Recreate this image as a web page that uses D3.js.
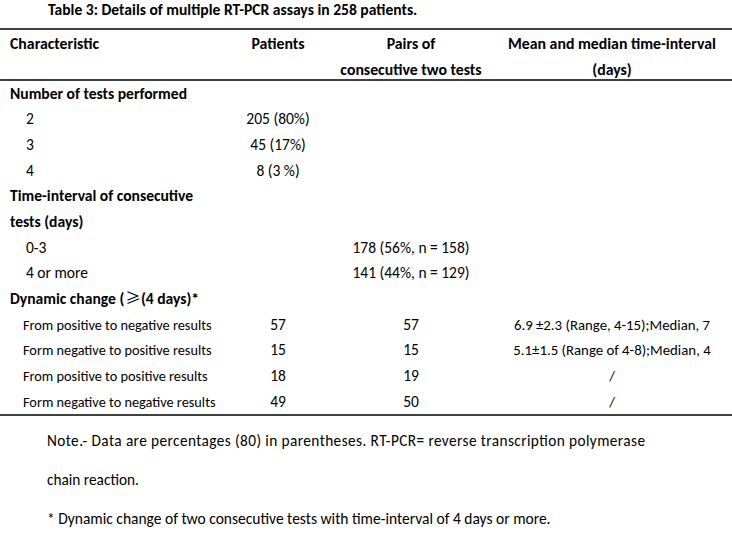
<!DOCTYPE html>
<html>
<head>
<meta charset="utf-8">
<script src="https://cdn.jsdelivr.net/npm/d3@7"></script>
<style>
  html, body { margin: 0; padding: 0; background: #fff; }
  svg { display: block; }
  text { font-family: Carlito, Lato, "Liberation Sans", sans-serif; fill: #000; }
  .cjk { font-family: "Noto Sans CJK SC", "DejaVu Sans", sans-serif; font-weight: normal; }
</style>
</head>
<body>
<svg id="chart" width="732" height="534"></svg>
<script>
// ---------- data ----------
const title = "Table 3: Details of multiple RT-PCR assays in 258 patients.";
const columnHeaders = [
  ["Characteristic"],
  ["Patients"],
  ["Pairs of", "consecutive two tests"],
  ["Mean and median time-interval", "(days)"]
];
const rowLabels = [
  "Number of tests performed", "2", "3", "4",
  "Time-interval of consecutive", "tests (days)", "0-3", "4 or more",
  "Dynamic change (\u2265(4 days)*",
  "From positive to negative results", "Form negative to positive results",
  "From positive to positive results", "Form negative to negative results"
];
const rowKinds = ["group", "item", "item", "item", "group", "group", "item", "item",
  "group", "sub", "sub", "sub", "sub"];
const patientsCol = ["", "205 (80%)", "45 (17%)", "8 (3 %)", "", "", "", "", "", "57", "15", "18", "49"];
const pairsCol = ["", "", "", "", "", "", "178 (56%, n = 158)", "141 (44%, n = 129)", "", "57", "15", "19", "50"];
const meanCol = ["", "", "", "", "", "", "", "", "",
  "6.9 \u00b12.3 (Range, 4-15);Median, 7", "5.1\u00b11.5 (Range of 4-8);Median, 4", "/", "/"];
const notes = [
  "Note.- Data are percentages (80) in parentheses. RT-PCR= reverse transcription polymerase",
  "chain reaction.",
  "* Dynamic change of two consecutive tests with time-interval of 4 days or more."
];

// ---------- layout ----------
const svg = d3.select("#chart");
const W = 732;

const y = d3.scaleLinear().domain([0, rowLabels.length - 1]).range([93, 401]);
const colX = d3.scaleOrdinal().domain([1, 2, 3]).range([278, 411, 612]);
const labelX = { group: 10, item: 26, sub: 23 };
const labelSize = { group: 15.6, item: 15.5, sub: 14.3 };

// title
svg.append("text")
  .attr("x", 48).attr("y", 15)
  .attr("font-weight", "bold").attr("font-size", 15.6)
  .text(title);

// rules
[[29, 1.6], [80, 1.6], [415, 1.6]].forEach(([yy, w]) => {
  svg.append("line").attr("x1", 0).attr("x2", W).attr("y1", yy).attr("y2", yy)
    .attr("stroke", "#000").attr("stroke-width", w);
});

// header
const headerY = [48.5, 74.5];
columnHeaders.forEach((lines, i) => {
  lines.forEach((t, j) => {
    svg.append("text")
      .attr("x", i === 0 ? 10 : colX(i))
      .attr("y", headerY[j])
      .attr("text-anchor", i === 0 ? "start" : "middle")
      .attr("font-weight", "bold").attr("font-size", 15.8)
      .text(t);
  });
});

// rows
const rows = svg.append("g");
rowLabels.forEach((lab, i) => {
  const kind = rowKinds[i];
  const base = y(i) + 5.5;
  const t = rows.append("text")
    .attr("x", labelX[kind]).attr("y", base)
    .attr("font-weight", kind === "group" ? "bold" : "normal")
    .attr("font-size", labelSize[kind]);
  // render the CJK-style "≥" sign with a CJK font, as in the source document
  lab.split(/(\u2265)/).forEach(part => {
    if (!part) return;
    const ts = t.append("tspan").text(part);
    if (part === "\u2265") ts.attr("class", "cjk").attr("dx", 1);
  });
  [patientsCol, pairsCol, meanCol].forEach((col, c) => {
    if (col[i]) {
      rows.append("text")
        .attr("x", colX(c + 1)).attr("y", base)
        .attr("text-anchor", "middle")
        .attr("font-size", c === 2 ? 14.8 : 15.5)
        .text(col[i]);
    }
  });
});

// notes
const note0 = svg.append("text").attr("x", 47).attr("y", 446).attr("font-size", 15.3).text(notes[0]);
note0.attr("textLength", 598).attr("lengthAdjust", "spacing");
svg.append("text").attr("x", 47).attr("y", 485).attr("font-size", 15.3).text(notes[1]);
svg.append("text").attr("x", 47).attr("y", 524).attr("font-size", 15.5).text(notes[2]);
</script>
</body>
</html>
